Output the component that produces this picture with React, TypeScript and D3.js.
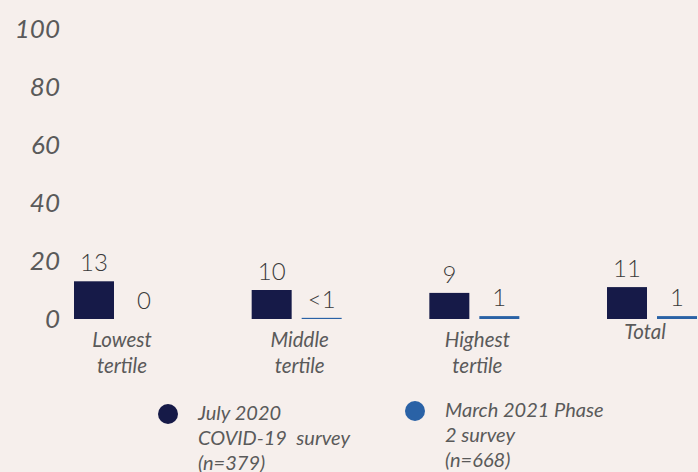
import * as d3 from "d3";

const CATEGORIES = ["Lowest tertile", "Middle tertile", "Highest tertile", "Total"];
const CATEGORY_LINES = [["Lowest", "tertile"], ["Middle", "tertile"], ["Highest", "tertile"], ["Total"]];
const SERIES = ["July 2020 COVID-19 survey (n=379)", "March 2021 Phase 2 survey (n=668)"];
const JULY_2020 = [13, 10, 9, 11];
const MARCH_2021 = [0, 0.4, 1, 1];
const JULY_LABELS = ["13", "10", "9", "11"];
const MARCH_LABELS = ["0", "<1", "1", "1"];
const Y_TICKS = [0, 20, 40, 60, 80, 100];
const LEGEND_LINES = [
  ["July 2020", "COVID-19  survey", "(n=379)"],
  ["March 2021 Phase", "2 survey", "(n=668)"],
];

const W = 698;
const H = 472;
const COLORS = ["#161a48", "#2a62a6"];
const TEXT = "#5a5a5a";
const FONT = "Lato, sans-serif";

export default function App() {
  const x = d3
    .scaleBand<string>()
    .domain(CATEGORIES)
    .range([74, 697])
    .paddingInner(0.4935)
    .paddingOuter(0);
  const inner = d3.scaleBand<string>().domain(SERIES).range([0, x.bandwidth()]).paddingInner(0.2);
  const y = d3.scaleLinear().domain([0, 100]).range([319, 29]);

  const values = [JULY_2020, MARCH_2021];
  const labels = [JULY_LABELS, MARCH_LABELS];

  return (
    <svg width={W} height={H} style={{ display: "block", position: "absolute", left: 0, top: 0, background: "#f6efec" }}>
      <rect width={W} height={H} fill="#f6efec" />
      {/* y axis labels */}
      {Y_TICKS.map((t) => (
        <text
          key={t}
          x={60}
          y={y(t)}
          dy="0.36em"
          textAnchor="end"
          fontFamily={FONT}
          fontStyle="italic"
          fontSize={26}
          fill={TEXT}
        >
          {t}
        </text>
      ))}
      {/* bars */}
      {CATEGORIES.map((c, ci) =>
        SERIES.map((s, si) => {
          const v = values[si][ci];
          const bx = (x(c) ?? 0) + (inner(s) ?? 0);
          return (
            <g key={c + s}>
              {v > 0 && (
                <rect x={bx} y={y(v)} width={inner.bandwidth()} height={y(0) - y(v)} fill={COLORS[si]} />
              )}
              <text
                x={bx + inner.bandwidth() / 2}
                y={y(v) - 10}
                textAnchor="middle"
                fontFamily={FONT}
                fontWeight={300}
                fontSize={24}
                fill="#3a3a3a"
              >
                {labels[si][ci]}
              </text>
            </g>
          );
        })
      )}
      {/* category labels */}
      {CATEGORIES.map((c, ci) => {
        const cx = (x(c) ?? 0) + x.bandwidth() / 2 + (ci === 3 ? -7 : 3);
        const lines = CATEGORY_LINES[ci];
        const y0 = lines.length === 1 ? 339 : 347;
        return (
          <text key={c} textAnchor="middle" fontFamily={FONT} fontStyle="italic" fontSize={20.5} fill={TEXT}>
            {lines.map((l, li) => (
              <tspan key={li} x={cx} y={y0 + li * 26}>
                {l}
              </tspan>
            ))}
          </text>
        );
      })}
      {/* legend */}
      {SERIES.map((s, si) => {
        const lx = si === 0 ? 168 : 415;
        const ly = si === 0 ? 414 : 411;
        return (
          <g key={s}>
            <circle cx={lx} cy={ly} r={10} fill={COLORS[si]} />
            <text fontFamily={FONT} fontStyle="italic" fontSize={20} fill={TEXT}>
              {LEGEND_LINES[si].map((l, li) => (
                <tspan key={li} x={lx + 30} y={ly + 6 + li * 25} style={{ whiteSpace: "pre" }}>
                  {l}
                </tspan>
              ))}
            </text>
          </g>
        );
      })}
    </svg>
  );
}
